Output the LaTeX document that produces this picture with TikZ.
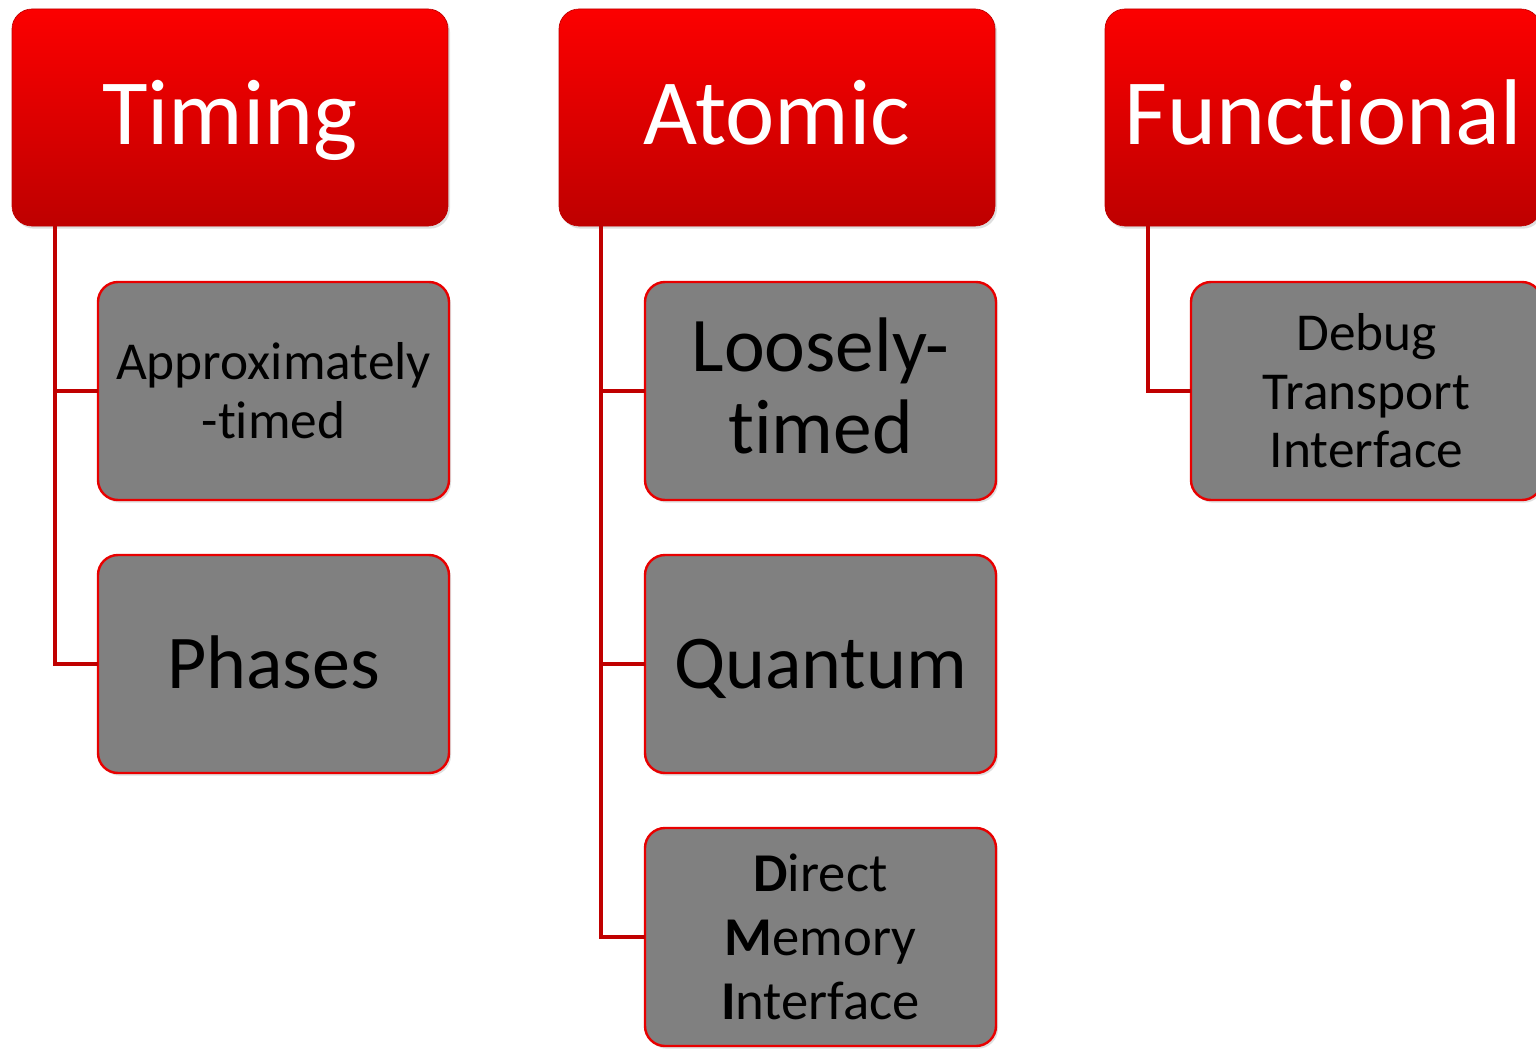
\documentclass[tikz,border=0pt]{standalone}
\usepackage{fontspec}
\setmainfont{Carlito}[Ligatures=NoCommon]
\usepackage{xcolor}
\usetikzlibrary{shadows}

\definecolor{hdtop}{RGB}{252,0,0}
\definecolor{hdbot}{RGB}{190,0,0}
\definecolor{linkred}{RGB}{192,0,0}
\definecolor{boxgray}{RGB}{128,128,128}
\definecolor{boxline}{RGB}{232,0,0}

\tikzset{
  headbox/.style={rounded corners=15pt, top color=hdtop, bottom color=hdbot, draw=hdbot,
    line width=0.5pt, minimum width=327pt, minimum height=162.75pt, inner sep=0pt, outer sep=0pt,
    text=white, font=\fontsize{70}{84}\selectfont, text height=45pt, text depth=4pt,
    drop shadow={opacity=0.25, shadow xshift=1.5pt, shadow yshift=-2pt}},
  subbox/.style={rounded corners=15pt, fill=boxgray, draw=boxline, line width=1.8pt,
    minimum width=263.25pt, minimum height=163.5pt, inner sep=0pt, outer sep=0pt,
    align=center, text=black,
    drop shadow={opacity=0.25, shadow xshift=1.5pt, shadow yshift=-2pt}},
  link/.style={draw=linkred, line width=3pt}
}

\begin{document}
\begin{tikzpicture}[x=0.75pt,y=0.75pt,yscale=-1,xscale=1]

\useasboundingbox (0,0) rectangle (1536,1049);

% connectors
\coordinate (tleg) at (55,226);
\coordinate (aleg) at (601,226);
\coordinate (fleg) at (1148,226);

% headers
\node [headbox] (tim) at (230,117.5) {Timing};
\node [headbox] (atom) at (777,117.5) {Atomic};
\node [headbox] (func) at (1323,117.5) {Functional};

% children
\node [subbox, font=\fontsize{40}{44}\selectfont] (approx) at (273.5,391) {Approximately\\-timed};
\node [subbox, font=\fontsize{57}{61}\selectfont, text height=37pt, text depth=0pt] (phases) at (273.5,664) {Phases};
\node [subbox, font=\fontsize{58}{61.5}\selectfont, text depth=8pt] (loose) at (820.5,391) {Loosely-\\timed};
\node [subbox, font=\fontsize{57}{61}\selectfont, text height=37pt, text depth=0pt] (quant) at (820.5,664) {Quantum};
\node [subbox, font=\fontsize{41}{48}\selectfont] (dmi) at (820.5,937) {\textbf{D}irect\\\textbf{M}emory\\\textbf{I}nterface};
\node [subbox, font=\fontsize{40}{44}\selectfont] (dti) at (1366.5,391) {Debug\\Transport\\Interface};

\draw [link] (tleg) |- (approx.west);
\draw [link] (tleg) |- (phases.west);
\draw [link] (aleg) |- (loose.west);
\draw [link] (aleg) |- (quant.west);
\draw [link] (aleg) |- (dmi.west);
\draw [link] (fleg) |- (dti.west);

\end{tikzpicture}
\end{document}
